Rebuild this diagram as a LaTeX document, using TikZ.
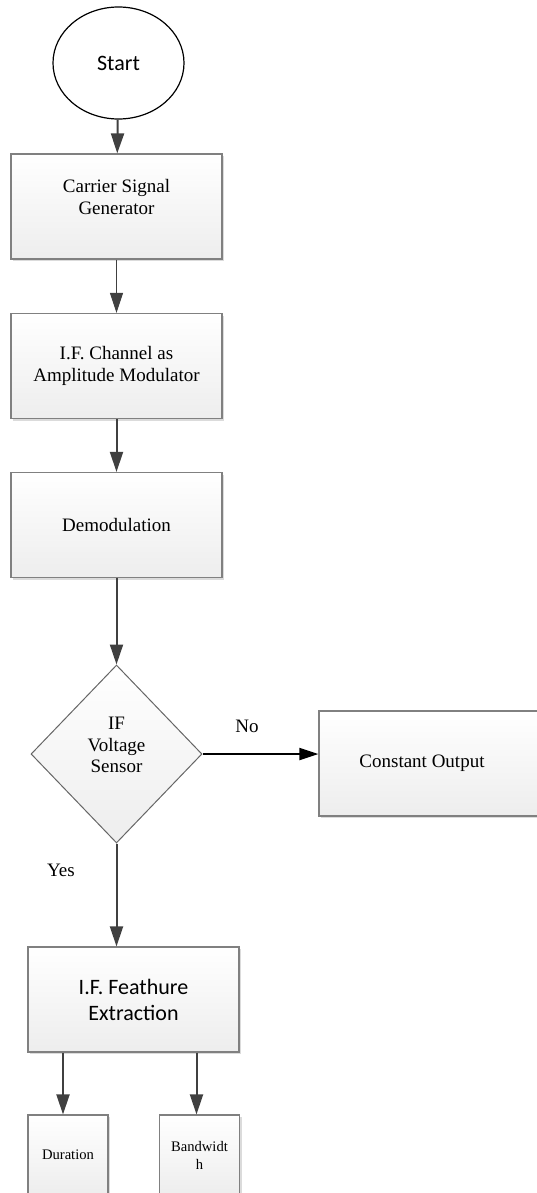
\documentclass[tikz,border=0pt]{standalone}
\usepackage{fontspec}
\setmainfont{Liberation Serif}
\newfontfamily\calibrifont{Carlito}
\usetikzlibrary{shapes.geometric,shadows,arrows.meta}

\tikzset{
  block/.style={draw=black!50, line width=0.6pt, top color=white, bottom color=black!7,
    drop shadow={shadow xshift=1.2pt, shadow yshift=-1.2pt, fill=black!20, opacity=0.7},
    minimum width=105.5pt, minimum height=52.5pt, align=center,
    font=\fontsize{9.5}{11}\selectfont},
  smallblock/.style={block, minimum width=40pt, minimum height=40pt,
    font=\fontsize{7.3}{9}\selectfont},
  decision/.style={diamond, aspect=0.96, draw=black!60, line width=0.5pt, top color=white,
    bottom color=black!7, minimum width=85.5pt, minimum height=89pt, inner sep=0pt,
    align=center, font=\fontsize{9.5}{10.75}\selectfont},
  terminal/.style={ellipse, draw=black, line width=0.6pt, fill=white,
    minimum width=65.5pt, minimum height=56pt, font=\calibrifont\fontsize{11}{13}\selectfont},
  flow/.style={draw=black!75, line width=1pt, -{Triangle[length=10pt,width=6.5pt]}},
  thinflow/.style={flow, line width=0.5pt},
  noflow/.style={draw=black, line width=1pt, -{Triangle[length=9.5pt,width=6pt]}},
  lbl/.style={font=\fontsize{9.5}{11}\selectfont}
}

\begin{document}
\begin{tikzpicture}[x=0.5pt,y=-0.5pt]
	\useasboundingbox (0,0) rectangle (536,1193);
	% main column
	\node[terminal] (start) at (118.5,63) {Start};
	\node[block] (gen) at (116.5,206.5) {Carrier Signal\\Generator\\[-1pt]};
	\node[block] (mod) at (116.5,366) {I.F. Channel as\\Amplitude Modulator};
	\node[block] (demod) at (116.5,525) {Demodulation};
	\node[decision] (sensor) at (116.5,754) {IF\\Voltage\\Sensor\\[-2pt]};
	\node[block, minimum width=116pt] (const) at (435,763.5) {\hspace*{-13pt}Constant Output};
	\node[block, font=\calibrifont\fontsize{11}{13}\selectfont] (feat) at (133.5,999.5) {I.F. Feathure\\Extraction};
	% outputs
	\node[smallblock] (dur) at (68,1155) {Duration};
	\node[smallblock] (bw) at (199.5,1155) {Bandwidt\\h};
	% labels
	\node[lbl] (no) at (247,726) {No};
	\node[lbl] (yes) at (61,870) {Yes};

	\draw[flow] (start) -- (gen);
	\draw[thinflow] (gen) -- (mod);
	\draw[flow] (mod) -- (demod);
	\draw[flow] (demod) -- (sensor);
	\draw[noflow] (sensor.east) -- (sensor.east -| const.west);
	\draw[flow] (sensor.south) -- (sensor.south |- feat.north);
	\draw[flow] ([xshift=-2.5pt]dur.north |- feat.south) -- ([xshift=-2.5pt]dur.north);
	\draw[flow] ([xshift=-1.5pt]bw.north |- feat.south) -- ([xshift=-1.5pt]bw.north);
\end{tikzpicture}
\end{document}
